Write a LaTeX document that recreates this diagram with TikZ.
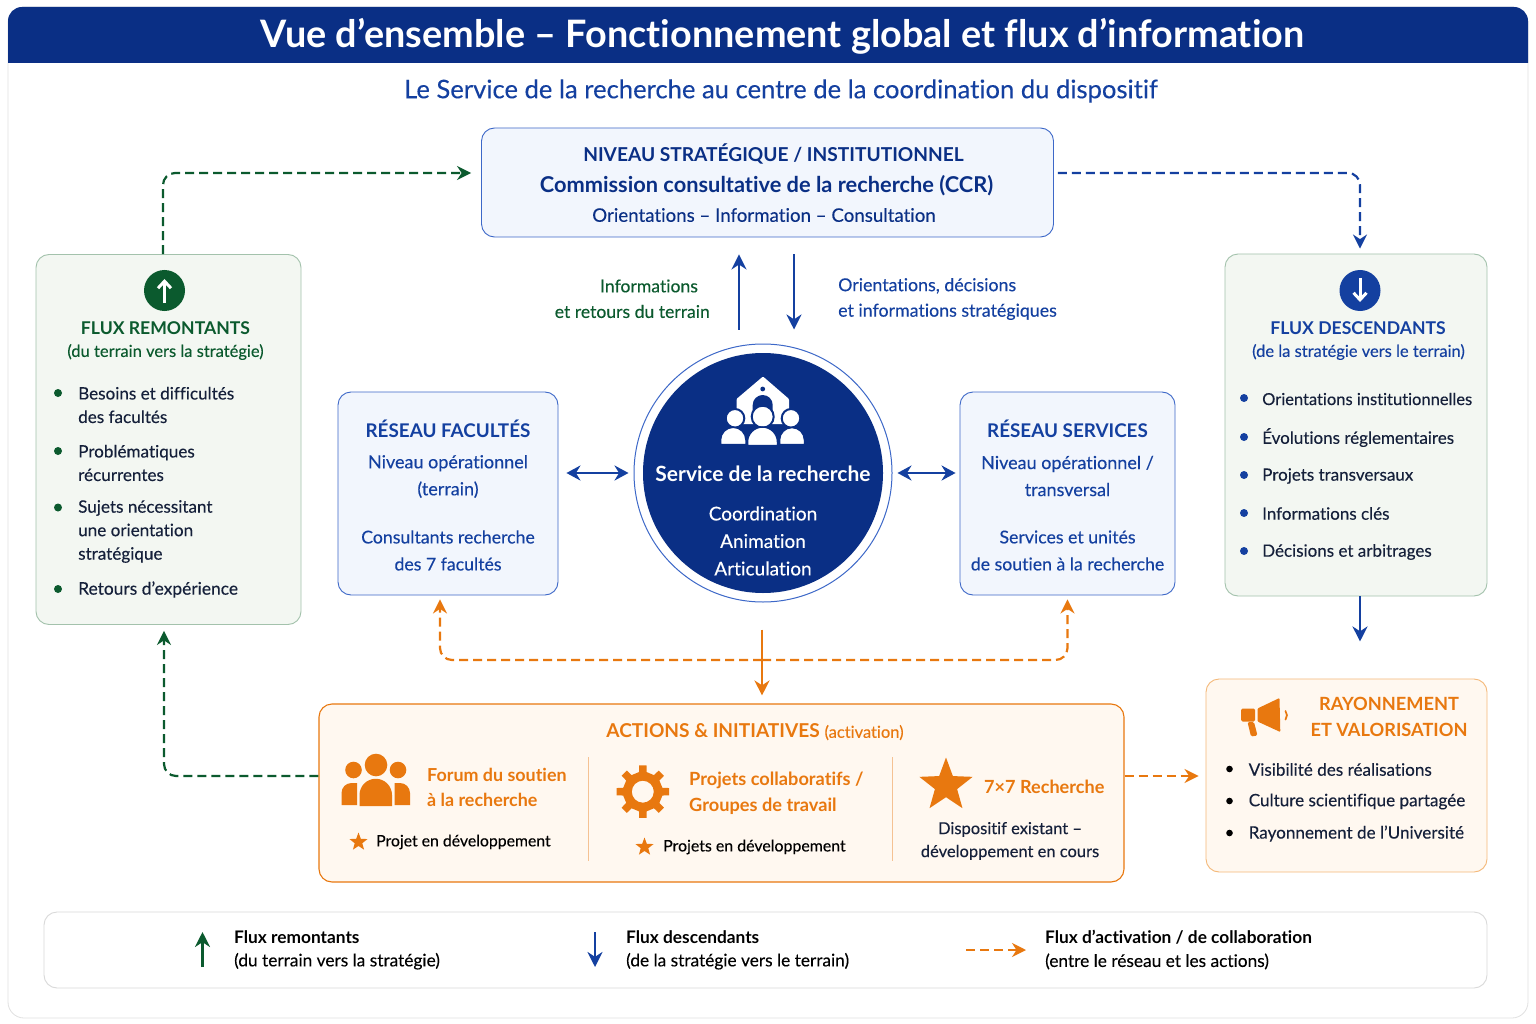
\documentclass[tikz,border=0pt]{standalone}
\usepackage{fontspec}
\setmainfont{Lato}[Ligatures=NoCommon,UprightFeatures={FakeBold=0.2}]
\usetikzlibrary{arrows.meta,calc,shapes.geometric}
\definecolor{navy}{HTML}{0A2F85}
\definecolor{bluel}{HTML}{1440A0}
\definecolor{bfill}{HTML}{F2F6FD}
\definecolor{bline}{HTML}{3D68C8}
\definecolor{gr}{HTML}{0B5A2E}
\definecolor{gfill}{HTML}{F3F7F2}
\definecolor{gline}{HTML}{A3C2AC}
\definecolor{org}{HTML}{E8780F}
\definecolor{ofill}{HTML}{FFF8F0}
\definecolor{oline}{HTML}{F4B878}
\definecolor{ink}{HTML}{15203A}
\newcommand{\fs}[2]{\fontsize{#1}{#2}\selectfont}
\tikzset{
  panel/.style={rounded corners=13pt,line width=0.9pt},
  tx/.style={inner sep=0pt,align=center,anchor=center},
  txl/.style={inner sep=0pt,align=left,anchor=west},
  flow/.style={line width=2.6pt,-{Stealth[length=15pt,width=15pt]}},
  flowd/.style={line width=2.2pt,dash pattern=on 9pt off 5pt,rounded corners=12pt,-{Stealth[length=14pt,width=14pt]}},
  both/.style={line width=2.6pt,{Stealth[length=14pt,width=15pt]}-{Stealth[length=14pt,width=15pt]}},
  starshape/.style={star,star points=5,star point ratio=2.4,fill=org,inner sep=0pt,minimum size=#1},
}
\begin{document}
\begin{tikzpicture}[x=1pt,y=-1pt]
\useasboundingbox (0,0) rectangle (1536,1024);
% frame & header
\draw[rounded corners=16pt,draw=black!12,line width=0.8pt,fill=white] (8,7) rectangle (1528,1018);
\fill[navy] (8,63) {[rounded corners=14pt] -- (8,7) -- (1528,7)} -- (1528,63) -- cycle;
\node[tx,text=white,font=\fs{37.8}{40}\bfseries] (title) at (782.5,36) {Vue d’ensemble – Fonctionnement global et flux d’information};
\node[tx,text=bluel,font=\fs{25.6}{30}] (subtitle) at (781,91) {Le Service de la recherche au centre de la coordination du dispositif};
% panels
\node[panel,draw=bline,fill=bfill,minimum width=572pt,minimum height=109pt,inner sep=0pt] (ccr) at (767.5,182.5) {};
\node[tx,text=navy,font=\fs{19.15}{24}\bfseries] (ccr1) at (773.5,154) {NIVEAU STRATÉGIQUE / INSTITUTIONNEL};
\node[tx,text=navy,font=\fs{21.8}{26}\bfseries] (ccr2) at (766.5,185.5) {Commission consultative de la recherche (CCR)};
\node[tx,text=navy,font=\fs{18.7}{24}] (ccr3) at (764,215) {Orientations – Information – Consultation};

\node[panel,draw=gline,fill=gfill,minimum width=265pt,minimum height=370pt,inner sep=0pt] (rem) at (168.5,439.5) {};
\node[panel,draw=gline,fill=gfill,minimum width=262pt,minimum height=342pt,inner sep=0pt] (des) at (1356,425) {};
\node[panel,draw=bline,fill=bfill,minimum width=220pt,minimum height=203pt,inner sep=0pt] (fac) at (448,493.5) {};
\node[panel,draw=bline,fill=bfill,minimum width=215pt,minimum height=203pt,inner sep=0pt] (ser) at (1067.5,493.5) {};
\node[panel,draw=org,fill=ofill,line width=1.1pt,minimum width=805pt,minimum height=178pt,inner sep=0pt] (act) at (721.5,793) {};
\node[panel,draw=oline,fill=ofill,minimum width=281pt,minimum height=193pt,inner sep=0pt] (ray) at (1346.5,775.5) {};
\node[panel,draw=black!15,fill=white,minimum width=1443pt,minimum height=76pt,inner sep=0pt] (leg) at (765.5,950) {};

% centre circle
\node[circle,draw=bline,line width=1pt,fill=white,minimum size=258pt,inner sep=0pt] (ring) at (763,473) {};
\node[circle,fill=navy,minimum size=240pt,inner sep=0pt] (core) at (763,473) {};
% centre icon
\fill[white,rounded corners=1pt] (736.5,399) -- (763,376.5) -- (789,399) -- (789,424) -- (737,424) -- cycle;
\fill[navy] (752.7,422) -- (752.7,405) arc[start angle=180,end angle=0,radius=10pt] -- (772.7,422) -- cycle;
\fill[navy] (762.7,389) circle (2.4);
\foreach \hx/\hr/\hy in {735/8.3/418.3,791/8.3/418.3,762.7/10/416.7}{
  \fill[white,draw=navy,line width=2pt] (\hx,\hy) circle (\hr+1);
}
\fill[white,draw=navy,line width=1.5pt] (720.5,444.5) -- (720.5,440) arc[start angle=180,end angle=0,radius=12.75pt] -- (746,444.5) -- cycle;
\fill[white,draw=navy,line width=1.5pt] (779.5,444.5) -- (779.5,440) arc[start angle=180,end angle=0,radius=12.5pt] -- (804.5,444.5) -- cycle;
\fill[white,draw=navy,line width=1.5pt] (747.5,445.5) -- (747.5,442) arc[start angle=180,end angle=0,radius=15pt] -- (777.5,445.5) -- cycle;
\node[tx,text=white,font=\fs{21}{28}\bfseries] (core1) at (763,474) {Service de la recherche};
\node[tx,text=white,font=\fs{19}{27.5}] (core2) at (763,541) {Coordination\\Animation\\Articulation};

% flux remontants
\node[circle,fill=gr,minimum size=41pt,inner sep=0pt] (remi) at (164.5,290.5) {};
\draw[white,line width=3pt,-{Straight Barb[length=7pt,width=13pt]}] (164.5,303) -- (164.5,279);
\node[tx,text=gr,font=\fs{17.6}{22}\bfseries] (rem1) at (165.5,328) {FLUX REMONTANTS};
\node[tx,text=gr,font=\fs{16.5}{20}] (rem2) at (165.5,352) {(du terrain vers la stratégie)};
\foreach \by in {393,451,507.5,589} \fill[gr] (58,\by) circle (4);
\node[txl,text=ink,font=\fs{17.1}{23.5}] (r1) at (78,405) {Besoins et difficultés\\des facultés};
\node[txl,text=ink,font=\fs{17.1}{23.5}] (r2) at (78,463) {Problématiques\\récurrentes};
\node[txl,text=ink,font=\fs{17.1}{23.5}] (r3) at (78,531.5) {Sujets nécessitant\\une orientation\\stratégique};
\node[txl,text=ink,font=\fs{17.4}{23.5}] (r4) at (78,589.5) {Retours d’expérience};

% flux descendants
\node[circle,fill=bluel,minimum size=41pt,inner sep=0pt] (desi) at (1360,290.5) {};
\draw[white,line width=3pt,-{Straight Barb[length=7pt,width=13pt]}] (1360,278) -- (1360,302);
\node[tx,text=bluel,font=\fs{17.6}{22}\bfseries] (des1) at (1358,328) {FLUX DESCENDANTS};
\node[tx,text=bluel,font=\fs{16.5}{20}] (des2) at (1358.5,352) {(de la stratégie vers le terrain)};
\foreach \by in {398,437,475,513,551} \fill[bluel] (1244,\by) circle (4);
\node[txl,text=ink,font=\fs{16.5}{22}] (d1) at (1262,399) {Orientations institutionnelles};
\node[txl,text=ink,font=\fs{17}{22}] (d2) at (1262,437.5) {Évolutions réglementaires};
\node[txl,text=ink,font=\fs{17}{22}] (d3) at (1262,476) {Projets transversaux};
\node[txl,text=ink,font=\fs{17}{22}] (d4) at (1262,513.5) {Informations clés};
\node[txl,text=ink,font=\fs{17}{22}] (d5) at (1262,552) {Décisions et arbitrages};

% réseau
\node[tx,text=bluel,font=\fs{18.85}{24}\bfseries] (f1) at (448,428.5) {RÉSEAU FACULTÉS};
\node[tx,text=bluel,font=\fs{18}{27}] (f2) at (448,476.5) {Niveau opérationnel\\(terrain)};
\node[tx,text=bluel,font=\fs{17.7}{27}] (f3) at (448,550.5) {Consultants recherche\\des 7 facultés};
\node[tx,text=bluel,font=\fs{18.85}{24}\bfseries] (s1) at (1067.5,428.5) {RÉSEAU SERVICES};
\node[tx,text=bluel,font=\fs{18}{27}] (s2) at (1067.5,476) {Niveau opérationnel /\\transversal};
\node[tx,text=bluel,font=\fs{17.7}{27}] (s3) at (1067.5,550.5) {Services et unités\\de soutien à la recherche};

% flow labels
\node[tx,text=gr,font=\fs{17.6}{25.5}] (lab1) at (649,286) {Informations};
\node[tx,text=gr,font=\fs{17.6}{25.5},anchor=east] (lab1b) at (710,311.5) {et retours du terrain};
\node[txl,text=bluel,font=\fs{17.8}{25.5}] (lab2) at (838,299) {Orientations, décisions\\et informations stratégiques};

% actions
\node[tx,text=org,font=\fs{19.1}{24}] (a0) at (755,732) {\textbf{ACTIONS \& INITIATIVES} {\fs{16.5}{20}(activation)}};
\draw[org!45,line width=0.7pt] (588.5,757) -- (588.5,861);
\draw[org!45,line width=0.7pt] (892.5,757) -- (892.5,861);
% people icon
\fill[org] (376,765) circle (11.3);
\fill[org] (353.5,770) circle (8.3);
\fill[org] (398,770) circle (8.3);
\fill[org] (359.5,806) -- (359.5,795) arc[start angle=180,end angle=0,radius=16.25pt] -- (392,806) -- cycle;
\fill[org] (341.5,805) -- (341.5,793) arc[start angle=180,end angle=90,radius=10pt] -- (357,783) -- (357,805) -- cycle;
\fill[org] (410,805) -- (410,793) arc[start angle=0,end angle=90,radius=10pt] -- (394.5,783) -- (394.5,805) -- cycle;
\node[txl,text=org,font=\fs{17.9}{25.5}\bfseries] (a1) at (427,787.5) {Forum du soutien\\à la recherche};
\node[starshape=19pt] (st1) at (358.5,842) {};
\node[txl,text=black,font=\fs{15.8}{20}] (a1b) at (376,842) {Projet en développement};
% gear icon
\fill[org,even odd rule] ([shift={(642.8,791.7)}]-34:20)
  \foreach \a in {0,45,...,315}{
    -- ([shift={(642.8,791.7)}]\a-11:20) -- ([shift={(642.8,791.7)}]\a-8:26.5) -- ([shift={(642.8,791.7)}]\a+8:26.5) -- ([shift={(642.8,791.7)}]\a+11:20) 
  } -- cycle
  (642.8,791.7) circle (11);
\node[txl,text=org,font=\fs{18.2}{26}\bfseries] (a2) at (689,793.5) {Projets collaboratifs /\\Groupes de travail};
\node[starshape=19pt] (st2) at (644.5,847) {};
\node[txl,text=black,font=\fs{15.9}{20}] (a2b) at (663,847) {Projets en développement};
\node[starshape=56pt] (st3) at (946,785.5) {};
\node[txl,text=org,font=\fs{18.1}{24}\bfseries] (a3) at (984,787) {7×7 Recherche};
\node[tx,text=ink,font=\fs{16.5}{23}] (a3b) at (1010,841) {Dispositif existant –\\développement en cours};

% rayonnement
\fill[org,rounded corners=1.5pt] (1241,708.5) rectangle (1255,721.5);
\fill[org,rounded corners=1pt] (1257.5,708.5) -- (1279.5,698) -- (1280.3,732) -- (1257.5,721.5) -- cycle;
\fill[org,rounded corners=1.5pt] (1247.5,722) -- (1254,722) -- (1257.5,735.5) -- (1251,736.5) -- cycle;
\draw[org,line width=1.7pt,line cap=round] (1285.5,711) to[bend left=35] (1285.5,719.5);
\node[tx,text=org,font=\fs{18.2}{26.5}\bfseries] (y1) at (1389,717) {RAYONNEMENT\\ET VALORISATION};
\foreach \by in {769,801,833} \fill[black] (1229.5,\by) circle (3.3);
\node[txl,text=ink,font=\fs{17.1}{21}] (y2) at (1248.5,769.5) {Visibilité des réalisations};
\node[txl,text=ink,font=\fs{17.1}{21}] (y3) at (1248.5,801.5) {Culture scientifique partagée};
\node[txl,text=ink,font=\fs{17.1}{21}] (y4) at (1248.5,833.5) {Rayonnement de l’Université};

% legend
\coordinate (lg1a) at (202.5,967); \coordinate (lg1b) at (202.5,932);
\draw[flow,gr] (lg1a) -- (lg1b);
\node[txl,text=black,font=\fs{17.3}{23}] (l1) at (234,950) {\textbf{Flux remontants}\\(du terrain vers la stratégie)};
\coordinate (lg2a) at (595,932); \coordinate (lg2b) at (595,967);
\draw[flow,bluel] (lg2a) -- (lg2b);
\node[txl,text=black,font=\fs{17.3}{23}] (l2) at (626,950) {\textbf{Flux descendants}\\(de la stratégie vers le terrain)};
\coordinate (lg3a) at (966,950); \coordinate (lg3b) at (1026,950);
\draw[flowd,org] (lg3a) -- (lg3b);
\node[txl,text=black,font=\fs{17.3}{23}] (l3) at (1045,950) {\textbf{Flux d’activation / de collaboration}\\(entre le réseau et les actions)};

% connectors
\draw[flowd,gr] ([xshift=-5.5pt]rem.north) |- ([xshift=-10pt,yshift=9.5pt]ccr.west);
\draw[flowd,bluel] ([xshift=4pt,yshift=9.5pt]ccr.east) -| ([xshift=4pt,yshift=5pt]des.north);
\draw[flow,bluel] ([xshift=-24pt,yshift=14pt]ring.north) -- ([xshift=-28.5pt,yshift=-17pt]ccr.south);
\draw[flow,bluel] ([xshift=26.5pt,yshift=-17pt]ccr.south) -- ([xshift=31pt,yshift=14pt]ring.north);
\draw[both,bluel] ([xshift=8pt]fac.east |- ring.center) -- ([xshift=-5pt]ring.west);
\draw[both,bluel] ([xshift=5pt]ring.east) -- ([xshift=-4pt]ser.west |- ring.center);
\draw[flow,org] ([xshift=-1pt,yshift=-27pt]ring.south) -- ([xshift=40.5pt,yshift=8pt]act.north);
\draw[flowd,org] (762,660) -| ([xshift=-8pt,yshift=-4pt]fac.south);
\draw[flowd,org] (762,660) -| ([yshift=-4pt]ser.south);
\draw[flowd,gr] ([yshift=17pt]act.west) -| ([xshift=-4.5pt,yshift=-6pt]rem.south);
\draw[flow,bluel] ([xshift=4pt]des.south) -- ([xshift=4pt,yshift=-45pt]des.south);
\draw[flowd,org] ([yshift=17pt]act.east) -- ([xshift=-7pt,yshift=-0.5pt]ray.west);
\end{tikzpicture}
\end{document}
